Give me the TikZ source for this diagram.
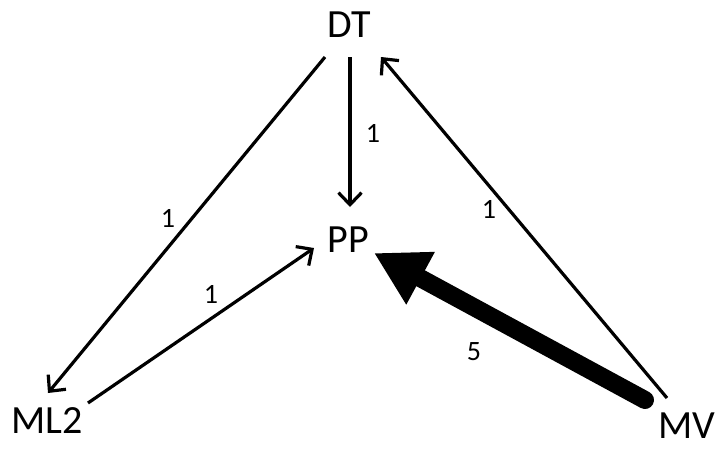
\documentclass[tikz,border=0pt]{standalone}
\usepackage{fontspec}
\setmainfont{Carlito}
\usetikzlibrary{arrows.meta}

\tikzset{
  vertex/.style={inner sep=0pt, outer sep=0pt, font=\fontsize{40}{48}\selectfont},
  weight/.style={inner sep=0pt, font=\fontsize{28}{32}\selectfont},
  thinarrow/.style={line width=3.2pt, -{Straight Barb[length=12pt, width=23pt, line width=3.2pt]}},
  heavyarrow/.style={line width=18pt, line cap=round, -{Triangle[length=53pt, width=56pt]}}
}

\begin{document}
\begin{tikzpicture}[x=1pt, y=-1pt]
    \useasboundingbox (0,0) rectangle (721,448);

    % Nodes
    \node[vertex] (DT) at (349,25) {DT};
    \node[vertex] (PP) at (348,240) {PP};
    \node[vertex] (ML2) at (47,421) {ML2};
    \node[vertex] (MV) at (687,426) {MV};

    % Edges
    \draw[thinarrow] ([shift={(-24,32)}]DT.center) -- ([shift={(1,-28)}]ML2.center);
    \draw[thinarrow] ([shift={(1,32)}]DT.center) -- ([shift={(2,-33)}]PP.center);
    \draw[thinarrow] ([shift={(41,-18)}]ML2.center) -- ([shift={(-34,8)}]PP.center);
    \draw[thinarrow] ([shift={(-20,-28)}]MV.center) -- ([shift={(32,32)}]DT.center);
    \draw[heavyarrow] ([shift={(-42,-26)}]MV.center) -- ([shift={(26,13)}]PP.center);

    % Weights
    \node[weight] (wDTML) at (168,218) {1};
    \node[weight] (wDTPP) at (373,133) {1};
    \node[weight] (wMLPP) at (211,294) {1};
    \node[weight] (wMVDT) at (489,209) {1};
    \node[weight] (wMVPP) at (474,352) {5};
\end{tikzpicture}
\end{document}
